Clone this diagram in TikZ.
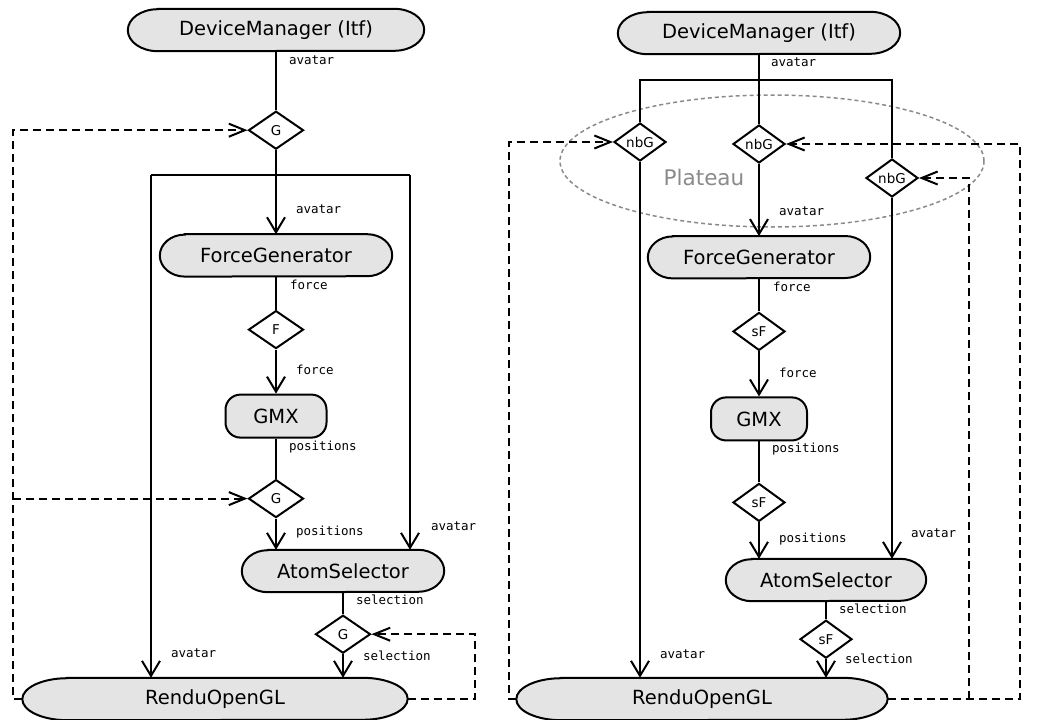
\documentclass[tikz,border=0pt]{standalone}
\usepackage{fontspec}
\setmainfont{DejaVu Sans}
\setmonofont{DejaVu Sans Mono}
\usetikzlibrary{arrows.meta, positioning, shapes.geometric, calc, backgrounds}
\definecolor{termgray}{HTML}{E4E4E4}
\definecolor{plateaugray}{HTML}{8A8A8A}
\tikzset{
  term/.style    ={rectangle, minimum height=42pt, inner sep=0pt,
                   font=\fontsize{19.5}{22}\selectfont},
  termline/.style={draw=black, line width=2pt, fill=termgray},
  gmx/.style     ={rectangle, draw=black, line width=2pt, fill=termgray,
                   rounded corners=15pt, minimum height=43pt, inner sep=0pt,
                   font=\fontsize{19.5}{22}\selectfont},
  gate/.style    ={diamond, draw=black, line width=2pt, fill=white,
                   minimum width=55pt, minimum height=38pt, inner sep=0pt,
                   font=\fontsize{13.5}{15}\selectfont},
  lbl/.style     ={anchor=west, inner sep=0pt, font=\fontsize{12.5}{14}\ttfamily},
  wire/.style    ={line width=2pt},
  arr/.style     ={-{Straight Barb[length=15pt, width=18pt]}, line width=2pt},
  fb/.style      ={-{Straight Barb[length=16pt, width=13pt]}, line width=2pt,
                   dash pattern=on 8pt off 5pt}
}
% stadium outline behind a term node: name, end radius
\newcommand\termshape[2]{%
  \draw[termline] ($(#1.north west)+(#2,0)$) -- ($(#1.north east)+(-#2,0)$)
    arc[start angle=90, end angle=-90, x radius=#2, y radius=21]
    -- ($(#1.south west)+(#2,0)$)
    arc[start angle=270, end angle=90, x radius=#2, y radius=21] -- cycle;}

\begin{document}
\begin{tikzpicture}[x=1pt, y=1pt, node distance=40pt]
  \useasboundingbox (0,0) rectangle (1047,-720);

  % plateau (right)
  \draw[plateaugray, line width=1.5pt, dash pattern=on 4pt off 3pt]
    (772,-161) ellipse[x radius=212, y radius=66];
  \node[text=plateaugray, font=\fontsize{21.5}{24}\selectfont] (plat) at (704,-177) {Plateau};

  % ---- left diagram
  \node[term, minimum width=296pt] (dmL) at (276,-30) {DeviceManager (Itf)};
  \node[gate, below=59pt of dmL] (gL1) {G};
  \node[term, minimum width=232pt, below=84pt of gL1] (fgL) {ForceGenerator};
  \node[gate, below=33pt of fgL] (fL) {F};
  \node[gmx, minimum width=101pt, below=44pt of fL] (gmxL) {GMX};
  \node[gate, below=40pt of gmxL] (gL2) {G};
  \node[term, minimum width=202pt] (asL) at (343,-571) {AtomSelector};
  \node[gate, below=22pt of asL] (gL3) {G};
  \node[term, minimum width=385pt] (roL) at (215,-699) {RenduOpenGL};

  % ---- right diagram
  \node[term, minimum width=282pt] (dmR) at (759,-33) {DeviceManager (Itf)};
  \node[gate, minimum width=52pt] (nbG1) at (640,-142) {nbG};
  \node[gate, minimum width=52pt] (nbG2) at (759,-144) {nbG};
  \node[gate, minimum width=52pt] (nbG3) at (892,-178) {nbG};
  \node[term, minimum width=222pt, below=72pt of nbG2] (fgR) {ForceGenerator};
  \node[gate, minimum width=52pt, below=33pt of fgR] (sF1) {sF};
  \node[gmx, minimum width=96pt, below=45pt of sF1] (gmxR) {GMX};
  \node[gate, minimum width=52pt, below=41pt of gmxR] (sF2) {sF};
  \node[term, minimum width=200pt] (asR) at (826,-580) {AtomSelector};
  \node[gate, minimum width=52pt, below=18pt of asR] (sF3) {sF};
  \node[term, minimum width=371pt] (roR) at (702,-699) {RenduOpenGL};

  \begin{scope}[on background layer]
    \foreach \n/\r in {dmL/30, fgL/25, asL/26, roL/45, dmR/30, fgR/25, asR/26, roR/45}
      \termshape{\n}{\r};
  \end{scope}

  % left flows
  \coordinate (brL1) at (151,-175);
  \coordinate (brL2) at (410,-175);
  \draw[wire] (dmL.south) -- node[lbl, pos=0.15, xshift=12pt] {avatar} (gL1.north);
  \draw[arr] (gL1.south) -- node[lbl, pos=0.70, xshift=19pt] {avatar} (fgL.north);
  \draw[wire] (brL1) -- (brL2);
  \draw[arr] (brL1) -- node[lbl, pos=0.952, xshift=19pt] {avatar} (brL1 |- roL.north);
  \draw[arr] (brL2) -- node[lbl, pos=0.936, xshift=20pt] {avatar} (brL2 |- asL.north);
  \draw[wire] (fgL.south) -- node[lbl, pos=0.24, xshift=13pt] {force} (fL.north);
  \draw[arr] (fL.south) -- node[lbl, pos=0.45, xshift=19pt] {force} (gmxL.north);
  \draw[wire] (gmxL.south) -- node[lbl, pos=0.2, xshift=12pt] {positions} (gL2.north);
  \draw[arr] (gL2.south) -- node[lbl, pos=0.43, xshift=19pt] {positions} (gL2 |- asL.north);
  \draw[wire] (asL.south) -- node[lbl, pos=0.36, xshift=12pt] {selection} (gL3.north);
  \draw[arr] (gL3.south) -- node[lbl, pos=0.08, xshift=19pt] {selection} (gL3 |- roL.north);

  % left feedback
  \coordinate (fbL) at (13,-699);
  \coordinate (fbLr) at (475,-699);
  \draw[fb] (roL.west) -- (fbL) |- (gL1.west);
  \draw[fb] (fbL |- gL2) -- (gL2.west);
  \draw[fb] (roL.east) -- (fbLr) |- (gL3.east);

  % right flows
  \coordinate (jR) at (759,-80);
  \draw[wire] (dmR.south) -- node[lbl, pos=0.3, xshift=11pt] {avatar} (jR);
  \draw[wire] (nbG1.north) |- (jR) -| (nbG3.north);
  \draw[wire] (jR) -- (nbG2.north);
  \draw[arr] (nbG2.south) -- node[lbl, pos=0.65, xshift=19pt] {avatar} (fgR.north);
  \draw[arr] (nbG1.south) -- node[lbl, pos=0.954, xshift=19pt] {avatar} (nbG1 |- roR.north);
  \draw[arr] (nbG3.south) -- node[lbl, pos=0.93, xshift=18pt] {avatar} (nbG3 |- asR.north);
  \draw[wire] (fgR.south) -- node[lbl, pos=0.24, xshift=13pt] {force} (sF1.north);
  \draw[arr] (sF1.south) -- node[lbl, pos=0.47, xshift=19pt] {force} (gmxR.north);
  \draw[wire] (gmxR.south) -- node[lbl, pos=0.19, xshift=12pt] {positions} (sF2.north);
  \draw[arr] (sF2.south) -- node[lbl, pos=0.46, xshift=19pt] {positions} (sF2 |- asR.north);
  \draw[wire] (asR.south) -- node[lbl, pos=0.44, xshift=12pt] {selection} (sF3.north);
  \draw[arr] (sF3.south) -- node[lbl, pos=0.0, xshift=18pt] {selection} (sF3 |- roR.north);

  % right feedback
  \coordinate (fbR) at (509,-699);
  \coordinate (fbRr) at (1020,-699);
  \coordinate (fbRm) at (969,-699);
  \draw[fb] (roR.west) -- (fbR) |- (nbG1.west);
  \draw[fb] (roR.east) -- (fbRr) |- (nbG2.east);
  \draw[fb] (fbRm) |- (nbG3.east);
\end{tikzpicture}
\end{document}
